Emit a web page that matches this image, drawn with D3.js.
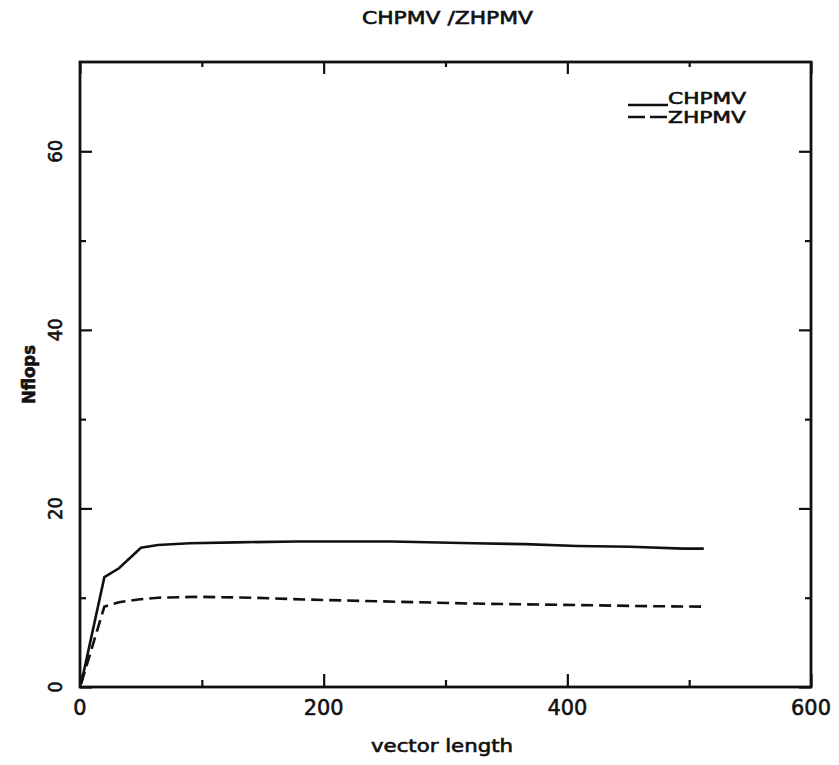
<!DOCTYPE html>
<html>
<head>
<meta charset="utf-8">
<script src="https://cdn.jsdelivr.net/npm/d3@7"></script>
<style>
  body { margin: 0; background: #fff; }
  text { font-family: "DejaVu Sans", sans-serif; fill: #111; stroke: #111; stroke-width: 0.6px; }
</style>
</head>
<body>
<div id="chart"></div>
<script>
// chart values
const chpmvLen = [1, 20, 32, 50, 64, 90, 128, 178, 256, 323, 365, 408, 452, 495, 512];
const chpmvVal = [0.4, 12.3, 13.3, 15.6, 15.9, 16.1, 16.2, 16.3, 16.3, 16.1, 16.0, 15.8, 15.7, 15.5, 15.5];
const zhpmvLen = [1, 20, 32, 48, 64, 96, 141, 184, 229, 275, 320, 396, 470, 512];
const zhpmvVal = [0.4, 9.0, 9.5, 9.8, 10.0, 10.1, 10.0, 9.8, 9.65, 9.5, 9.35, 9.2, 9.05, 9.0];
const xMajor = [0, 200, 400, 600];
const xMinor = [100, 300, 500];
const yMajor = [0, 20, 40, 60];
const yMinor = [10, 30, 50];
const seriesNames = ["CHPMV", "ZHPMV"];

const svgWidth = 839, svgHeight = 765;
const svg = d3.select("#chart").append("svg")
    .attr("width", svgWidth)
    .attr("height", svgHeight);

const x = d3.scaleLinear().domain([0, 600]).range([80, 811]);
const y = d3.scaleLinear().domain([0, 70]).range([687, 62]);

// title
svg.append("text")
    .attr("x", 362).attr("y", 24)
    .attr("font-size", 17)
    .attr("textLength", 171).attr("lengthAdjust", "spacingAndGlyphs")
    .text("CHPMV /ZHPMV");

// frame
svg.append("rect")
    .attr("x", x(0)).attr("y", y(70))
    .attr("width", x(600) - x(0)).attr("height", y(0) - y(70))
    .attr("fill", "none").attr("stroke", "#111").attr("stroke-width", 2.8);

// inward ticks on all four sides
function ticks(axisFn, vals, len, tr) {
  const g = svg.append("g")
      .attr("transform", tr)
      .call(axisFn.tickValues(vals).tickSize(-len).tickFormat(""));
  g.select(".domain").remove();
  g.selectAll(".tick line").attr("stroke", "#111").attr("stroke-width", 2.2);
  return g;
}
ticks(d3.axisBottom(x), xMajor, 13, `translate(0,${y(0)})`);
ticks(d3.axisBottom(x), xMinor, 7, `translate(0,${y(0)})`);
ticks(d3.axisTop(x), xMajor, 12, `translate(0,${y(70)})`);
ticks(d3.axisTop(x), xMinor, 5, `translate(0,${y(70)})`);
ticks(d3.axisLeft(y), yMajor, 12, `translate(${x(0)},0)`);
ticks(d3.axisLeft(y), yMinor, 6, `translate(${x(0)},0)`);
ticks(d3.axisRight(y), yMajor, 12, `translate(${x(600)},0)`);
ticks(d3.axisRight(y), yMinor, 6, `translate(${x(600)},0)`);

// tick labels
svg.selectAll(".xlab").data(xMajor).enter().append("text")
    .attr("x", d => x(d)).attr("y", 715)
    .attr("text-anchor", "middle")
    .attr("font-size", 22)
    .attr("textLength", d => String(d).length * 13.3).attr("lengthAdjust", "spacingAndGlyphs")
    .text(d => d);

svg.selectAll(".ylab").data(yMajor).enter().append("text")
    .attr("transform", d => `translate(62,${y(d)}) rotate(-90)`)
    .attr("text-anchor", "middle")
    .attr("font-size", 19)
    .attr("textLength", d => String(d).length * 11.5).attr("lengthAdjust", "spacingAndGlyphs")
    .text(d => d);

// axis titles
svg.append("text")
    .attr("x", 442).attr("y", 752)
    .attr("text-anchor", "middle")
    .attr("font-size", 17)
    .attr("textLength", 142).attr("lengthAdjust", "spacingAndGlyphs")
    .text("vector length");

svg.append("text")
    .attr("transform", `translate(35,${y(35)}) rotate(-90)`)
    .attr("text-anchor", "middle")
    .attr("font-size", 17)
    .attr("font-weight", "bold")
    .attr("textLength", 59).attr("lengthAdjust", "spacingAndGlyphs")
    .text("Nflops");

// curves
const line = d3.line().x(d => x(d[0])).y(d => y(d[1]));
const chpmv = d3.zip(chpmvLen, chpmvVal);
const zhpmv = d3.zip(zhpmvLen, zhpmvVal);

svg.append("path").datum(chpmv)
    .attr("d", line)
    .attr("fill", "none").attr("stroke", "#111").attr("stroke-width", 2.6);

svg.append("path").datum(zhpmv)
    .attr("d", line)
    .attr("fill", "none").attr("stroke", "#111").attr("stroke-width", 2.6)
    .attr("stroke-dasharray", "12,6");

// legend
const legend = svg.append("g");
const dashes = [null, "17,5"];
const lineY = [105, 117];
const textY = [104, 123];
seriesNames.forEach((name, i) => {
  legend.append("line")
      .attr("x1", 628).attr("x2", 668)
      .attr("y1", lineY[i]).attr("y2", lineY[i])
      .attr("stroke", "#111").attr("stroke-width", 2.5)
      .attr("stroke-dasharray", dashes[i]);
  legend.append("text")
      .attr("x", 668).attr("y", textY[i])
      .attr("font-size", 16)
      .attr("textLength", 78).attr("lengthAdjust", "spacingAndGlyphs")
      .text(name);
});
</script>
</body>
</html>
